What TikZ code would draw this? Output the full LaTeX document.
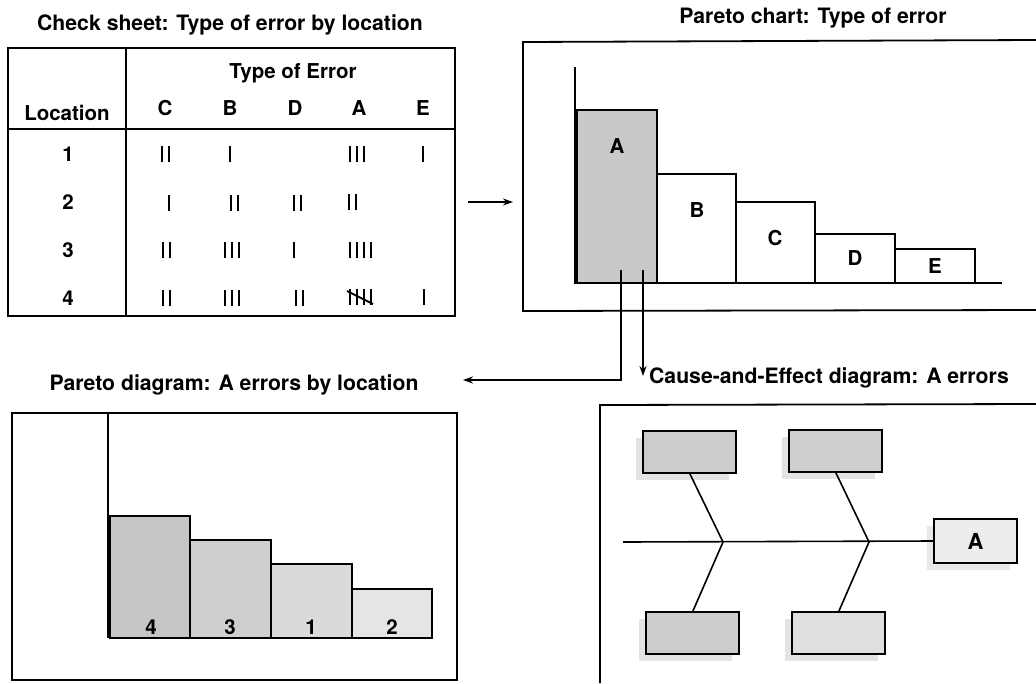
\documentclass[tikz,border=0pt]{standalone}
\usepackage{fontspec}
\setmainfont{TeX Gyre Heros}
\usetikzlibrary{arrows.meta,shadows}

\begin{document}
\begin{tikzpicture}[x=1pt,y=-1pt,
  every node/.style={inner sep=0pt, outer sep=0pt},
  ttl/.style={font=\fontsize{21.2}{24}\selectfont\bfseries},
  lbl/.style={font=\fontsize{20.5}{24}\selectfont\bfseries},
  num/.style={font=\fontsize{20.5}{24}\selectfont\bfseries},
  frameline/.style={line width=1.8pt},
  bar/.style={draw, line width=1.8pt, anchor=south west},
  cause/.style={draw, line width=2pt, anchor=north west,
    minimum width=93pt, minimum height=42pt,
    drop shadow={shadow xshift=-7pt, shadow yshift=-7pt, fill=gray!22, opacity=1}},
  arr/.style={line width=1.6pt, -{Stealth[length=10pt,width=7pt]}},
  pics/tally/.style={code={
    \foreach \k in {1,...,#1}
      \draw[line width=2pt] ({(\k-(#1+1)/2)*7},-8) -- ({(\k-(#1+1)/2)*7},8);
  }},
  pics/tallyfive/.style={code={
    \foreach \k in {1,...,4}
      \draw[line width=2pt] ({(\k-2.5)*7},-8) -- ({(\k-2.5)*7},8);
    \draw[line width=2pt] (-13,-6) -- (13,7);
  }}
]
\useasboundingbox (0,0) rectangle (1036,683);

% ---------- Check sheet ----------
\node[ttl] (tchk) at (230,25) {Check sheet: Type of error by location};
\node[draw, line width=2pt, anchor=north west, minimum width=447pt, minimum height=268pt] (tbl) at (8,48) {};
\draw[line width=2pt] (126,48) -- (126,316);
\draw[line width=2pt] (8,129) -- (455,129);
\node[lbl] (hdr) at (293,73) {Type of Error};
\node[lbl] (hloc) at (67,113) {Location};
\node[lbl] (cC) at (165,108) {C};
\node[lbl] (cB) at (230,108) {B};
\node[lbl] (cD) at (295,108) {D};
\node[lbl] (cA) at (359,108) {A};
\node[lbl] (cE) at (423,108) {E};
\node[num] (r1) at (68,154) {1};
\node[num] (r2) at (68,202) {2};
\node[num] (r3) at (68,250) {3};
\node[num] (r4) at (68,298) {4};
% tallies, row by row
\pic at (165,154) {tally=2};
\pic at (230,154) {tally=1};
\pic at (357,154) {tally=3};
\pic at (423,154) {tally=1};
\pic at (169,203) {tally=1};
\pic at (234,203) {tally=2};
\pic at (297,203) {tally=2};
\pic at (352,202) {tally=2};
\pic at (166,250) {tally=2};
\pic at (232,250) {tally=3};
\pic at (294,250) {tally=1};
\pic at (360,250) {tally=4};
\pic at (166,298) {tally=2};
\pic at (232,298) {tally=3};
\pic at (299,298) {tally=2};
\pic at (360,297) {tallyfive};
\pic at (424,297) {tally=1};

% ---------- Pareto chart: type of error ----------
\node[ttl] (tpar) at (813,18) {Pareto chart: Type of error};
\draw[frameline] (1036,40) -- (523,42) -- (523,311) -- (1036,310);
\draw[line width=1.8pt] (575,67) -- (575,283) -- (1002,283);
\node[bar, fill=gray!42, minimum width=80pt, minimum height=173pt] (pA) at (577,283) {};
\node[bar, minimum width=79pt, minimum height=109pt] (pB) at (657,283) {};
\node[bar, minimum width=79pt, minimum height=81pt] (pC) at (736,283) {};
\node[bar, minimum width=80pt, minimum height=49pt] (pD) at (815,283) {};
\node[bar, minimum width=80pt, minimum height=34pt] (pE) at (895,283) {};
\node[lbl] (lA) at (617,146) {A};
\node[lbl] (lB) at (697,210) {B};
\node[lbl] (lC) at (775,238) {C};
\node[lbl] (lD) at (855,258) {D};
\node[lbl] (lE) at (935,266) {E};

\draw[arr, shorten <=13pt, shorten >=10pt] (tbl.east |- r2) -- (523,202);

% ---------- Drill-down connectors ----------
\coordinate (s1) at (621,270);
\coordinate (s2) at (643,270);
\coordinate (e1) at (463,380);
\coordinate (e2) at (643,376);
\draw[arr] (s1) |- (e1);
\draw[arr] (s2) -- (e2);

% ---------- Pareto diagram: A errors by location ----------
\node[ttl] (tloc) at (234,385) {Pareto diagram: A errors by location};
\draw[frameline] (12,413) rectangle (457,680);
\draw[line width=1.8pt] (108,413) -- (108,638);
\node[bar, fill=gray!45, minimum width=80pt, minimum height=122pt] (b4) at (110,638) {};
\node[bar, fill=gray!38, minimum width=81pt, minimum height=98pt] (b3) at (190,638) {};
\node[bar, fill=gray!29, minimum width=81pt, minimum height=74pt] (b1) at (271,638) {};
\node[bar, fill=gray!20, minimum width=80pt, minimum height=49pt] (b2) at (352,638) {};
\node[num] (n4) at (151,627) {4};
\node[num] (n3) at (230,627) {3};
\node[num] (n1) at (311,627) {1};
\node[num] (n2) at (392,627) {2};

% ---------- Cause-and-effect diagram ----------
\node[ttl] (tce) at (829,378) {Cause-and-Effect diagram: A errors};
\draw[frameline] (600,683) -- (600,405) -- (1036,404);
\node[draw, line width=2pt, fill=gray!14, minimum width=83pt, minimum height=44pt,
  drop shadow={shadow xshift=-7pt, shadow yshift=-7pt, fill=gray!18, opacity=1},
  font=\fontsize{22}{24}\selectfont\bfseries, anchor=north west] (eff) at (934,519) {A};
\coordinate (spine) at (623,542);
\coordinate (j1) at (723,542);
\coordinate (j2) at (869,542);
\draw[line width=1.6pt] (spine) -- (eff.west);
\node[cause, fill=gray!40] (ul) at (643,431) {};
\node[cause, fill=gray!38] (ur) at (789,430) {};
\node[cause, fill=gray!40] (ll) at (646,612) {};
\node[cause, fill=gray!25] (lr) at (792,612) {};
\draw[line width=1.6pt] (ul.south) -- (j1) -- (ll.north);
\draw[line width=1.6pt] (ur.south) -- (j2) -- (lr.north);
\end{tikzpicture}
\end{document}
